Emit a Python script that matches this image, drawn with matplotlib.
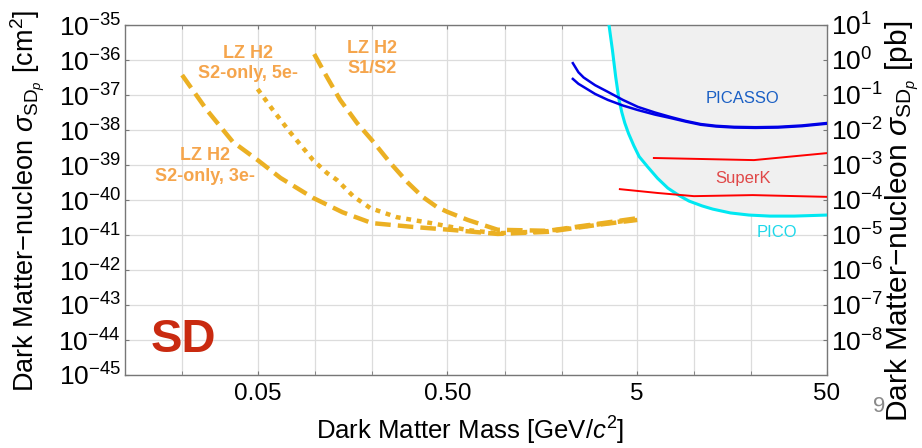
import numpy as np
import matplotlib
matplotlib.use("Agg")
import matplotlib.pyplot as plt
from matplotlib.ticker import FixedLocator, NullFormatter

plt.rcParams['font.family'] = ['Liberation Sans', 'DejaVu Sans']
plt.rcParams['mathtext.fontset'] = 'custom'
plt.rcParams['mathtext.rm'] = 'Liberation Sans'
plt.rcParams['mathtext.it'] = 'Liberation Sans:italic'
plt.rcParams['mathtext.bf'] = 'Liberation Sans:bold'

# limits (log10 of cross section in cm^2)
pico_mass = [3.55, 3.70, 3.85, 4.01, 4.15, 4.30, 4.50, 4.80, 5.12, 5.69, 6.40, 7.25,
             8.30, 9.37, 11.0, 12.5, 15.5, 19.4, 25.0, 33.6, 50]
pico_log = [-35.0, -35.71, -36.48, -37.14, -37.50, -37.80, -38.10, -38.45, -38.76,
            -39.06, -39.38, -39.66, -39.87, -40.03, -40.17, -40.26, -40.37, -40.43,
            -40.46, -40.46, -40.43]

picasso_a_mass = [2.29, 2.45, 2.61, 3.0, 3.5, 4.2, 5.04, 6.2, 7.52, 9.0, 10.8, 13.0, 16.2, 21.0, 27.6, 37.0, 50]
picasso_a_log = [-36.09, -36.35, -36.50, -36.72, -36.91, -37.14, -37.34, -37.50, -37.63,
                 -37.74, -37.83, -37.88, -37.91, -37.92, -37.91, -37.87, -37.80]
picasso_b_mass = [2.29, 2.45, 2.61, 3.0, 3.5, 4.2, 5.04, 6.2, 7.52, 9.0, 10.8, 13.0, 16.2, 21.0, 27.6, 37.0, 50]
picasso_b_log = [-36.54, -36.68, -36.77, -36.97, -37.14, -37.30, -37.43, -37.56, -37.66,
                 -37.76, -37.85, -37.90, -37.93, -37.94, -37.93, -37.89, -37.82]

superk_a_mass = [6.12, 20.6, 50]
superk_a_log = [-38.80, -38.86, -38.66]
superk_b_mass = [4.05, 6.42, 9.95, 20.3, 50]
superk_b_log = [-39.69, -39.80, -39.89, -39.86, -39.91]

lz3_mass = [0.02, 0.027, 0.037, 0.05, 0.066, 0.098, 0.14, 0.2, 0.33, 0.54, 0.92, 1.69, 3.1, 5.0]
lz3_log = [-36.43, -37.43, -38.34, -38.86, -39.37, -39.94, -40.35, -40.66, -40.77, -40.86,
           -40.97, -40.91, -40.71, -40.57]

lz5_mass = [0.05, 0.0602, 0.074, 0.098, 0.116, 0.131, 0.16, 0.196, 0.27, 0.41, 0.64, 0.92, 1.69, 3.1, 5.0]
lz5_log = [-36.83, -37.43, -38.06, -38.86, -39.23, -39.43, -39.90, -40.23, -40.49, -40.66,
           -40.86, -40.95, -40.89, -40.70, -40.55]

lzs1_mass = [0.0993, 0.116, 0.136, 0.167, 0.2, 0.25, 0.31, 0.37, 0.44, 0.5, 0.64, 0.92, 1.69, 3.1, 5.0]
lzs1_log = [-35.83, -36.49, -37.14, -37.80, -38.29, -38.94, -39.51, -39.91, -40.2, -40.34,
            -40.57, -40.85, -40.88, -40.68, -40.52]

x_major = [0.05, 0.5, 5, 50]
x_major_labels = ['0.05', '0.50', '5', '50']
x_minor = [0.02, 0.1, 0.2, 1, 2, 10, 20]
y_left_ticks = [10.0**e for e in range(-45, -34)]
y_right_ticks = [10.0**e for e in range(-8, 2)]

gold = '#ebb023'
label_orange = '#f5a54c'


def val(logs):
    return np.power(10.0, logs)


fig = plt.figure(figsize=(9.22, 4.48), dpi=100)
ax = fig.add_axes([125 / 922, 73 / 448, 702 / 922, 350 / 448])
ax.set_xscale('log')
ax.set_yscale('log')
ax.set_xlim(0.01, 50)
ax.set_ylim(1e-45, 1e-35)

# excluded region above PICO
ax.fill_between(pico_mass, val(pico_log), 1e-35, color='#f0f0f0', lw=0, zorder=1)

ax.plot(lz3_mass, val(lz3_log), color=gold, lw=3.2, ls=(0, (3.5, 1.6)), zorder=3)
ax.plot(lz5_mass, val(lz5_log), color=gold, lw=3.2, ls=(0, (1.1, 1.3)), zorder=3)
ax.plot(lzs1_mass, val(lzs1_log), color=gold, lw=3.2, ls=(0, (3.5, 1.6)), zorder=3)

ax.plot(pico_mass, val(pico_log), color='#00e8f2', lw=2.2, zorder=4)
ax.plot(picasso_a_mass, val(picasso_a_log), color='#0000e6', lw=1.8, zorder=4)
ax.plot(picasso_b_mass, val(picasso_b_log), color='#0000e6', lw=1.8, zorder=4)
ax.plot(superk_a_mass, val(superk_a_log), color='#ff0000', lw=1.4, zorder=4)
ax.plot(superk_b_mass, val(superk_b_log), color='#ff0000', lw=1.4, zorder=4)

ax.xaxis.set_major_locator(FixedLocator(x_major))
ax.set_xticklabels(x_major_labels)
ax.xaxis.set_minor_locator(FixedLocator(x_minor))
ax.xaxis.set_minor_formatter(NullFormatter())
ax.yaxis.set_major_locator(FixedLocator(y_left_ticks))
ax.yaxis.set_minor_locator(FixedLocator([]))
ax.grid(True, which='both', color='#dcdcdc', lw=0.9, zorder=0)
ax.set_axisbelow(True)

ax.tick_params(axis='both', which='both', direction='in', length=3, color='#777777',
               top=True)
ax.tick_params(axis='x', labelsize=17.5, pad=6)
ax.tick_params(axis='y', labelsize=19, pad=3)
for s in ax.spines.values():
    s.set_color('#777777')
    s.set_linewidth(1.0)

ax.set_xlabel('Dark Matter Mass [GeV/$c^2$]', fontsize=18.5)
ax.xaxis.set_label_coords(0.491, -0.115)
ax.set_ylabel('Dark Matter\u2212nucleon $\\sigma_{\\mathrm{SD}_p}$ [cm$^2$]', fontsize=19.5)
ax.yaxis.label.set_va('center')
ax.yaxis.set_label_coords(-0.138, 0.497)

ax2 = ax.twinx()
ax2.set_yscale('log')
ax2.set_ylim(1e-9, 10)
ax2.yaxis.set_major_locator(FixedLocator(y_right_ticks))
ax2.yaxis.set_minor_locator(FixedLocator([]))
ax2.tick_params(axis='y', direction='in', length=3, color='#777777', labelsize=19, pad=3)
for s in ax2.spines.values():
    s.set_visible(False)
ax2.set_ylabel('Dark Matter\u2212nucleon $\\sigma_{\\mathrm{SD}_p}$ [pb]', fontsize=21.5)
ax2.yaxis.label.set_va('center')
ax2.yaxis.set_label_coords(1.107, 0.44)

txt = dict(transform=ax.transAxes, ha='center', va='center')
ax.text(0.175, 0.889, 'LZ H2\nS2-only, 5e-', color=label_orange, fontsize=13,
        fontweight='bold', linespacing=1.25, **txt)
ax.text(0.352, 0.904, 'LZ H2\nS1/S2', color=label_orange, fontsize=13,
        fontweight='bold', linespacing=1.25, **txt)
ax.text(0.114, 0.597, 'LZ H2\nS2-only, 3e-', color=label_orange, fontsize=13,
        fontweight='bold', linespacing=1.25, **txt)
ax.text(0.879, 0.789, 'PICASSO', color='#1a5fc4', fontsize=12, **txt)
ax.text(0.880, 0.560, 'SuperK', color='#e04848', fontsize=12, **txt)
ax.text(0.929, 0.406, 'PICO', color='#1ed8ea', fontsize=12, **txt)
ax.text(0.083, 0.100, 'SD', color='#c92a10', fontsize=34, fontweight='bold', **txt)

fig.text(879 / 922, 1 - 406 / 448, '9', color='#8a8a8a', fontsize=16,
         ha='center', va='center')

fig.savefig('out.png', dpi=100)
